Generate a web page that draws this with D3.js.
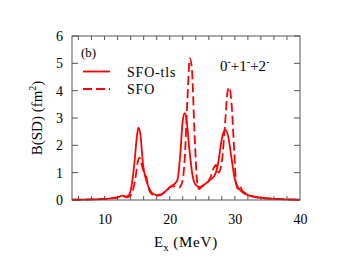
<!DOCTYPE html>
<html>
<head>
<meta charset="utf-8">
<script src="https://cdn.jsdelivr.net/npm/d3@7"></script>
<style>
  body { margin: 0; background: #fff; }
  svg text { font-family: "Times New Roman", "Liberation Serif", "DejaVu Serif", serif !important; fill: #000; }
</style>
</head>
<body>
<script>
var w = 344;
var h = 272;

// plot box
var x0 = 72, x1 = 300, y0 = 36, y1 = 200;

// SFO-tls (solid)
var tlsE = [5, 8, 10, 11, 12, 12.8, 13.3, 13.8, 14.2, 14.6, 15.0, 15.2, 15.5, 15.9, 16.3, 16.8, 17.3, 18, 18.8, 19.5, 20.2, 20.8, 21.2, 21.6, 22, 22.3, 22.6, 23, 23.5, 24, 24.6, 25.2, 25.8, 26.4, 26.9, 27.4, 27.9, 28.3, 28.6, 29.0, 29.5, 30, 30.5, 31, 32, 33, 35, 37, 40];
var tlsB = [0.01, 0.02, 0.04, 0.06, 0.1, 0.16, 0.12, 0.2, 0.6, 1.4, 2.4, 2.65, 2.4, 1.3, 0.8, 0.45, 0.25, 0.18, 0.22, 0.35, 0.5, 0.6, 0.75, 1.6, 2.9, 3.18, 2.9, 1.9, 0.9, 0.55, 0.47, 0.55, 0.65, 0.78, 0.9, 1.3, 2.1, 2.5, 2.56, 2.3, 1.5, 0.75, 0.45, 0.32, 0.18, 0.11, 0.06, 0.03, 0.01];

// SFO (dashed)
var sfoE = [5, 10, 12, 12.8, 13.3, 13.9, 14.4, 14.8, 15.1, 15.35, 15.7, 16.1, 16.4, 16.8, 17.3, 18, 18.8, 19.5, 20.2, 20.8, 21.4, 21.8, 22.3, 22.7, 23.1, 23.4, 23.8, 24.2, 24.5, 25, 25.6, 26.2, 26.7, 27.1, 27.5, 28, 28.5, 28.9, 29.15, 29.5, 29.9, 30.2, 30.5, 30.8, 31.1, 31.6, 32.5, 34, 37, 40];
var sfoB = [0.01, 0.04, 0.1, 0.15, 0.1, 0.15, 0.4, 0.9, 1.4, 1.55, 1.3, 0.95, 0.85, 0.4, 0.2, 0.15, 0.2, 0.35, 0.5, 0.5, 0.45, 0.55, 1.5, 3.6, 5.18, 4.8, 2.5, 0.7, 0.4, 0.5, 0.6, 0.8, 1.15, 1.28, 1.0, 1.4, 2.8, 4.0, 4.12, 3.5, 1.8, 0.6, 0.4, 0.5, 0.35, 0.25, 0.15, 0.08, 0.03, 0.01];

var xTicks = [10, 20, 30, 40];
var yTicks = [0, 1, 2, 3, 4, 5, 6];

var x = d3.scaleLinear().domain([5, 40]).range([x0, x1]);
var y = d3.scaleLinear().domain([0, 6]).range([y1, y0]);

var svg = d3.select("body").append("svg").attr("width", w).attr("height", h);

// ticks on all four sides, pointing in
var minorX = d3.range(6, 40, 2);
var axisColor = "#555";

function tickSide(scale, vals, len, orient) {
  var g = svg.append("g").attr("stroke", axisColor).attr("stroke-width", 1);
  vals.forEach(function(v) {
    if (orient == "bottom") g.append("line").attr("x1", scale(v)).attr("x2", scale(v)).attr("y1", y1).attr("y2", y1 - len);
    if (orient == "top") g.append("line").attr("x1", scale(v)).attr("x2", scale(v)).attr("y1", y0).attr("y2", y0 + len);
    if (orient == "left") g.append("line").attr("y1", scale(v)).attr("y2", scale(v)).attr("x1", x0).attr("x2", x0 + len);
    if (orient == "right") g.append("line").attr("y1", scale(v)).attr("y2", scale(v)).attr("x1", x1).attr("x2", x1 - len);
  });
}
tickSide(x, minorX, 4, "bottom");
tickSide(x, minorX, 4, "top");
tickSide(y, yTicks, 6, "left");
tickSide(y, yTicks, 6, "right");

// tick labels via d3 axes (lines hidden)
var xAxis = svg.append("g")
  .attr("transform", "translate(0," + y1 + ")")
  .call(d3.axisBottom(x).tickValues(xTicks).tickFormat(d3.format("d")).tickSize(0).tickPadding(14));
var yAxis = svg.append("g")
  .attr("transform", "translate(" + x0 + ",0)")
  .call(d3.axisLeft(y).tickValues(yTicks).tickFormat(d3.format("d")).tickSize(0).tickPadding(9));
[xAxis, yAxis].forEach(function(a) {
  a.attr("font-family", null);
  a.select(".domain").remove();
  a.selectAll("text").style("font-size", "14px");
});

var line = d3.line()
  .x(function(d) { return x(d[0]); })
  .y(function(d) { return y(d[1]); })
  .curve(d3.curveMonotoneX);

svg.append("path")
  .datum(sfoE.map(function(e, i) { return [e, sfoB[i]]; }))
  .attr("d", line)
  .attr("fill", "none")
  .attr("stroke", "#ff0000")
  .attr("stroke-width", 1.8)
  .attr("stroke-dasharray", "9,4");

svg.append("path")
  .datum(tlsE.map(function(e, i) { return [e, tlsB[i]]; }))
  .attr("d", line)
  .attr("fill", "none")
  .attr("stroke", "#ff0000")
  .attr("stroke-width", 1.8);

// frame
svg.append("rect")
  .attr("x", x0).attr("y", y0)
  .attr("width", x1 - x0).attr("height", y1 - y0)
  .attr("fill", "none").attr("stroke", axisColor).attr("stroke-width", 1);

// legend
svg.append("line").attr("x1", 83).attr("x2", 110).attr("y1", 71.5).attr("y2", 71.5)
  .attr("stroke", "#ff0000").attr("stroke-width", 1.8);
svg.append("line").attr("x1", 83).attr("x2", 110).attr("y1", 89).attr("y2", 89)
  .attr("stroke", "#ff0000").attr("stroke-width", 1.8).attr("stroke-dasharray", "9,4");
svg.append("text").attr("x", 127).attr("y", 76.5).style("font-size", "14px").style("letter-spacing", "0.8px").text("SFO-tls");
svg.append("text").attr("x", 127).attr("y", 94).style("font-size", "14px").style("letter-spacing", "0.8px").text("SFO");

svg.append("text").attr("x", 81).attr("y", 57).style("font-size", "13px").text("(b)");

var lab = svg.append("text").attr("x", 220).attr("y", 71).style("font-size", "15px");
lab.append("tspan").text("0");
lab.append("tspan").attr("dy", -6).style("font-size", "10px").text("-");
lab.append("tspan").attr("dy", 6).text("+1");
lab.append("tspan").attr("dy", -6).style("font-size", "10px").text("-");
lab.append("tspan").attr("dy", 6).text("+2");
lab.append("tspan").attr("dy", -6).style("font-size", "10px").text("-");

// axis titles
var xt = svg.append("text").attr("x", 186).attr("y", 247).attr("text-anchor", "middle").style("font-size", "15px");
xt.append("tspan").text("E");
xt.append("tspan").attr("dy", 4).style("font-size", "11px").text("x");
xt.append("tspan").attr("dy", -4).style("letter-spacing", "0.8px").text(" (MeV)");

var yt = svg.append("text").attr("transform", "translate(42,118) rotate(-90)").attr("text-anchor", "middle").style("font-size", "15px");
yt.append("tspan").text("B(SD) (fm");
yt.append("tspan").attr("dy", -6).style("font-size", "10px").text("2");
yt.append("tspan").attr("dy", 6).text(")");
</script>
</body>
</html>
